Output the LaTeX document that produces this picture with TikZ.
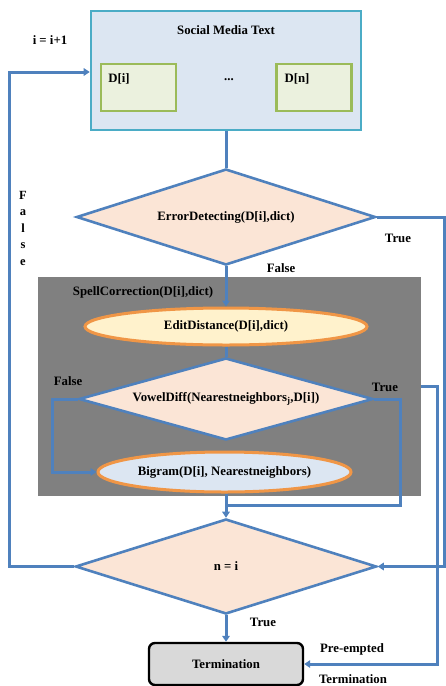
\documentclass[tikz,border=0pt]{standalone}
\usepackage{fontspec}
\setmainfont{Liberation Serif}
\usetikzlibrary{shapes.geometric,arrows.meta}
\definecolor{flowline}{RGB}{79,129,189}
\definecolor{textedge}{RGB}{75,172,198}
\definecolor{textfill}{RGB}{220,230,242}
\definecolor{docedge}{RGB}{155,187,89}
\definecolor{docfill}{RGB}{235,241,222}
\definecolor{peach}{RGB}{251,229,214}
\definecolor{greybox}{RGB}{128,128,128}
\definecolor{glow}{RGB}{240,150,70}
\definecolor{editfill}{RGB}{255,242,204}
\definecolor{termfill}{RGB}{217,217,217}
\begin{document}
\begin{tikzpicture}[x=1pt,y=-1pt,
  every node/.style={font=\fontsize{12.8}{14}\selectfont\bfseries},
  flow/.style={draw=flowline,line width=3pt},
  arr/.style={flow,-{Triangle[length=6pt,width=7.5pt]}},
  decision/.style={diamond,draw=flowline,line width=2.6pt,fill=peach,inner sep=0pt},
  stepoval/.style={ellipse,draw=glow,line width=3pt,inner sep=0pt},
  docbox/.style={draw=docedge,line width=2.4pt,fill=docfill,minimum width=75pt,minimum height=47pt,inner sep=0pt}]
  \useasboundingbox (0,0) rectangle (445,686);
  % input text and its documents
  \node[draw=textedge,line width=2.6pt,fill=textfill,minimum width=270pt,minimum height=119pt,inner sep=0pt] (text) at (226,70.5) {};
  \node (title) at (226,30) {Social Media Text};
  \node[docbox] (di) at (138.5,87.5) {};
  \node[docbox] (dn) at (314,87.5) {};
  \node (dilabel) at (119,79) {D[i]};
  \node (dnlabel) at (297,79) {D[n]};
  \node (dots) at (229,80) {...};
  \node (incr) at (50,40) {i = i+1};
  % error check
  \node[decision,aspect=3.1,minimum width=299pt,minimum height=96pt] (err) at (226,217) {ErrorDetecting(D[i],dict)};
  % spell correction block
  \node[fill=greybox,minimum width=383pt,minimum height=219pt,inner sep=0pt] (spell) at (229.5,386.5) {};
  \node (spelllabel) at (143,292) {SpellCorrection(D[i],dict)};
  \node[stepoval,fill=editfill,minimum width=282pt,minimum height=37pt] (edit) at (226,326.5) {EditDistance(D[i],dict)};
  \node[decision,aspect=3.6,minimum width=294pt,minimum height=82pt] (vowel) at (226,399) {VowelDiff(Nearestneighbors\textsubscript{j},D[i])};
  \node[stepoval,fill=textfill,minimum width=253pt,minimum height=40pt] (bigram) at (224.5,472) {Bigram(D[i], Nearestneighbors)};
  % loop test and end
  \node[decision,aspect=3.2,minimum width=301pt,minimum height=95pt] (check) at (226,566.5) {n = i};
  \node[draw=black,line width=2.4pt,rounded corners=6pt,fill=termfill,minimum width=154pt,minimum height=42pt] (term) at (226,664) {Termination};
  % bends
  \coordinate (fbend) at (52,399);
  \coordinate (tbend) at (400,399);
  \coordinate (join) at (226,505);
  \coordinate (loopA) at (9,566.5);
  \coordinate (loopB) at (9,72);
  \coordinate (errA) at (444,217);
  \coordinate (errB) at (444,566.5);
  \coordinate (preA) at (437,386.5);
  \coordinate (preB) at (437,664);
  % connectors
  \draw[flow] (text.south) -- (err.north);
  \draw[arr] (err.south) -- (edit.north);
  \draw[flow] (edit.south) -- (vowel.north);
  \draw[arr] (vowel.west) -- (fbend) |- (bigram.west);
  \draw[flow] (vowel.east) -- (tbend) |- (join);
  \draw[arr] (bigram.south -| check.north) -- (check.north);
  \draw[arr] (check.south) -- (term.north);
  \draw[arr] (check.west) -- (loopA) -- (loopB) -- (loopB -| text.west);
  \draw[arr] (err.east) -- (errA) -- (errB) -- (check.east);
  \draw[arr] (spell.east) -- (preA) -- (preB) -- (term.east);
  % branch labels
  \node[align=center,font=\fontsize{12.5}{16.5}\selectfont\bfseries] (falseloop) at (23,228) {F\\a\\l\\s\\e};
  \node (errtrue) at (398,238) {True};
  \node (errfalse) at (281,268) {False};
  \node (vowelfalse) at (68,381) {False};
  \node (voweltrue) at (385,387) {True};
  \node (checktrue) at (263,622) {True};
  \node (preempt) at (352,649) {Pre-empted};
  \node (preterm) at (353,679) {Termination};
\end{tikzpicture}
\end{document}
